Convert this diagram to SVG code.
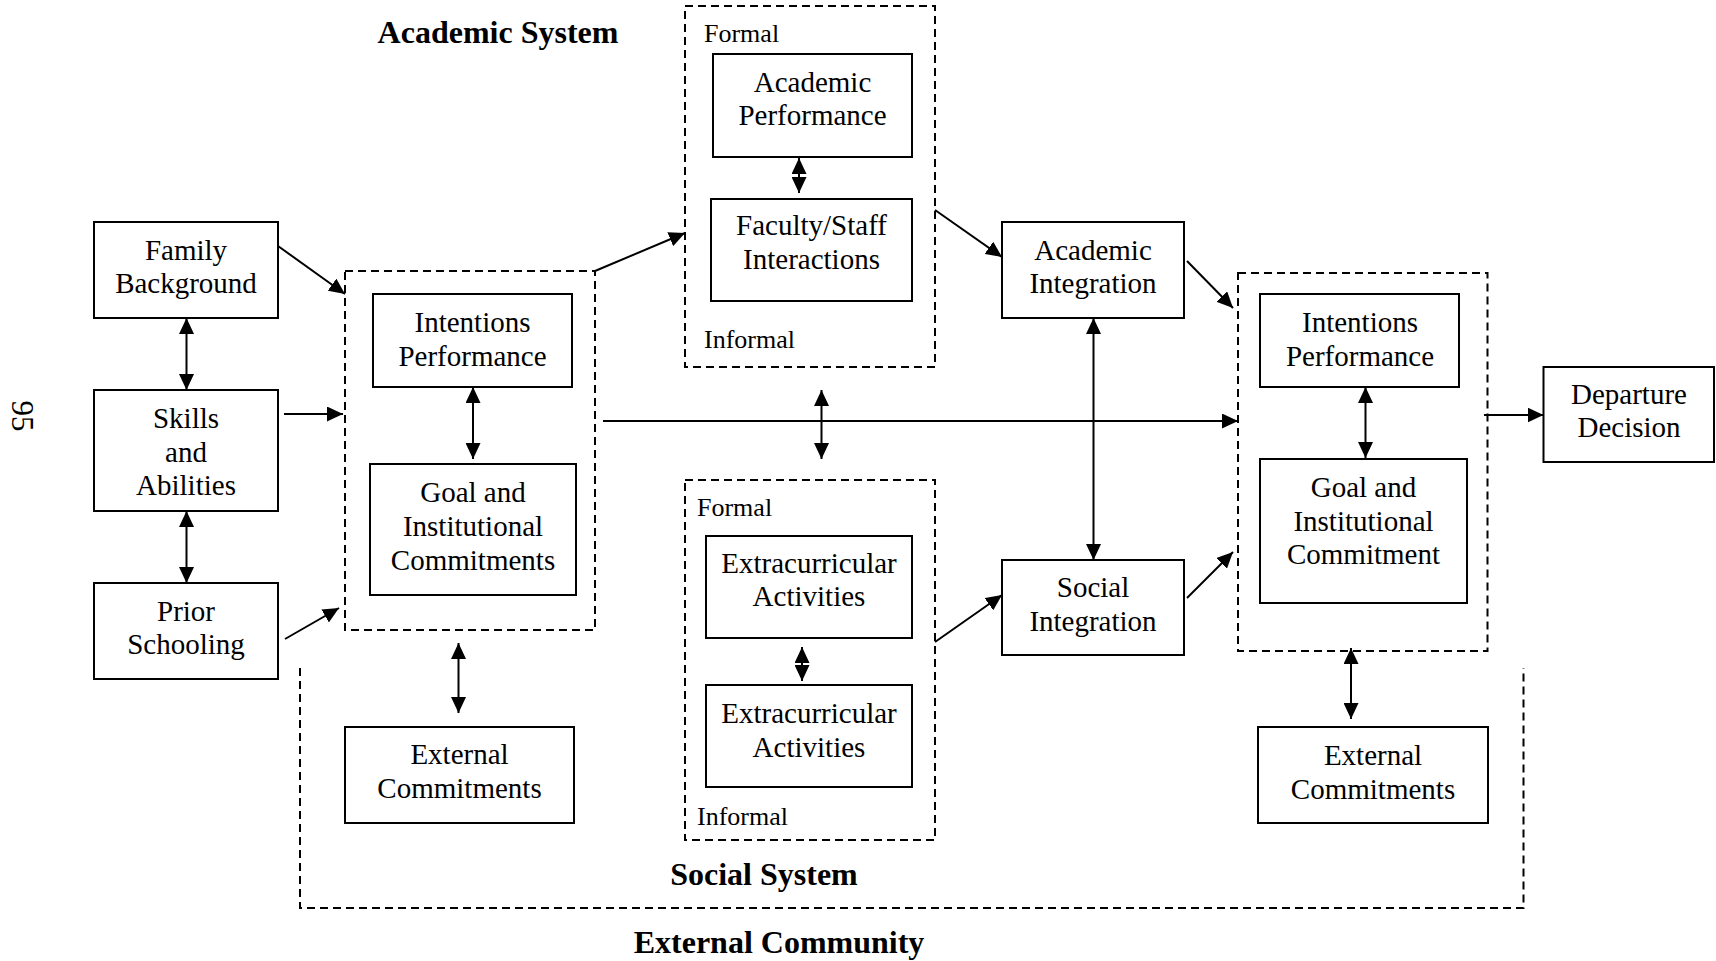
<svg xmlns="http://www.w3.org/2000/svg" width="1716" height="961" viewBox="0 0 1716 961">
<style>
.box{fill:#fff;stroke:#000;stroke-width:2}
.grp{fill:none;stroke:#000;stroke-width:2;stroke-dasharray:8 5}
.t{font-family:"Liberation Serif","Times New Roman",serif;font-size:29px;fill:#000;text-anchor:middle}
.s{font-family:"Liberation Serif","Times New Roman",serif;font-size:26px;fill:#000}
.h{font-family:"Liberation Serif","Times New Roman",serif;font-size:32px;font-weight:bold;fill:#000;text-anchor:middle}
.c{fill:none;stroke:#000;stroke-width:2}
</style>
<defs>
<marker id="ah" markerUnits="userSpaceOnUse" markerWidth="17" markerHeight="15" refX="16" refY="7.5" orient="auto-start-reverse" viewBox="0 0 17 15">
<path d="M0,0 L16,7.5 L0,15 z" fill="#000"/>
</marker>
</defs>
<rect width="1716" height="961" fill="#fff"/>

<text x="12" y="416" class="s" style="font-size:31px;text-anchor:middle" transform="rotate(90 12 416)">95</text>

<text x="498" y="43" class="h">Academic System</text>
<text x="764" y="885" class="h">Social System</text>
<text x="779" y="953" class="h">External Community</text>

<g id="external-community">
<path class="grp" d="M300,668 V908 H1523.5 V668"/>
</g>

<g id="group-left">
<rect class="grp" x="345" y="271" width="250" height="359"/>
</g>
<g id="group-academic">
<rect class="grp" x="685" y="6" width="250" height="361"/>
<text x="704" y="42" class="s">Formal</text>
<text x="704" y="348" class="s">Informal</text>
</g>
<g id="group-social">
<rect class="grp" x="685" y="480" width="250" height="360"/>
<text x="697" y="516" class="s">Formal</text>
<text x="697" y="825" class="s">Informal</text>
</g>
<g id="group-right">
<rect class="grp" x="1238" y="273" width="249.5" height="378"/>
</g>

<g id="family-background">
<rect class="box" x="94" y="222" width="184" height="96"/>
<text x="186" y="260" class="t">Family</text>
<text x="186" y="293" class="t">Background</text>
</g>
<g id="skills-abilities">
<rect class="box" x="94" y="390" width="184" height="121"/>
<text x="186" y="428" class="t">Skills</text>
<text x="186" y="462" class="t">and</text>
<text x="186" y="495" class="t">Abilities</text>
</g>
<g id="prior-schooling">
<rect class="box" x="94" y="583" width="184" height="96"/>
<text x="186" y="621" class="t">Prior</text>
<text x="186" y="654" class="t">Schooling</text>
</g>
<g id="intentions-left">
<rect class="box" x="373" y="294" width="199" height="93"/>
<text x="472.5" y="332" class="t">Intentions</text>
<text x="472.5" y="366" class="t">Performance</text>
</g>
<g id="goal-left">
<rect class="box" x="370" y="464" width="206" height="131"/>
<text x="473" y="502" class="t">Goal and</text>
<text x="473" y="536" class="t">Institutional</text>
<text x="473" y="570" class="t">Commitments</text>
</g>
<g id="external-left">
<rect class="box" x="345" y="727" width="229" height="96"/>
<text x="459.5" y="764" class="t">External</text>
<text x="459.5" y="798" class="t">Commitments</text>
</g>
<g id="academic-performance">
<rect class="box" x="713" y="54" width="199" height="103"/>
<text x="812.5" y="92" class="t">Academic</text>
<text x="812.5" y="125" class="t">Performance</text>
</g>
<g id="faculty-staff">
<rect class="box" x="711" y="199" width="201" height="102"/>
<text x="811.5" y="235" class="t">Faculty/Staff</text>
<text x="811.5" y="269" class="t">Interactions</text>
</g>
<g id="extracurricular-1">
<rect class="box" x="706" y="536" width="206" height="102"/>
<text x="809" y="573" class="t">Extracurricular</text>
<text x="809" y="606" class="t">Activities</text>
</g>
<g id="extracurricular-2">
<rect class="box" x="706" y="685" width="206" height="102"/>
<text x="809" y="723" class="t">Extracurricular</text>
<text x="809" y="757" class="t">Activities</text>
</g>
<g id="academic-integration">
<rect class="box" x="1002" y="222" width="182" height="96"/>
<text x="1093" y="260" class="t">Academic</text>
<text x="1093" y="293" class="t">Integration</text>
</g>
<g id="social-integration">
<rect class="box" x="1002" y="560" width="182" height="95"/>
<text x="1093" y="597" class="t">Social</text>
<text x="1093" y="631" class="t">Integration</text>
</g>
<g id="intentions-right">
<rect class="box" x="1260" y="294" width="199" height="93"/>
<text x="1360" y="332" class="t">Intentions</text>
<text x="1360" y="366" class="t">Performance</text>
</g>
<g id="goal-right">
<rect class="box" x="1260" y="459" width="207" height="144"/>
<text x="1363.5" y="497" class="t">Goal and</text>
<text x="1363.5" y="531" class="t">Institutional</text>
<text x="1363.5" y="564" class="t">Commitment</text>
</g>
<g id="external-right">
<rect class="box" x="1258" y="727" width="230" height="96"/>
<text x="1373" y="765" class="t">External</text>
<text x="1373" y="799" class="t">Commitments</text>
</g>
<g id="departure-decision">
<rect class="box" x="1543.5" y="367" width="170.5" height="95"/>
<text x="1629" y="404" class="t">Departure</text>
<text x="1629" y="437" class="t">Decision</text>
</g>

<g id="connectors">
<line class="c" x1="278" y1="246" x2="345" y2="294" marker-end="url(#ah)"/>
<line class="c" x1="284" y1="414" x2="343" y2="414" marker-end="url(#ah)"/>
<line class="c" x1="285" y1="639" x2="339" y2="608" marker-end="url(#ah)"/>
<line class="c" x1="186.5" y1="318" x2="186.5" y2="390" marker-start="url(#ah)" marker-end="url(#ah)"/>
<line class="c" x1="186.5" y1="511" x2="186.5" y2="583" marker-start="url(#ah)" marker-end="url(#ah)"/>
<line class="c" x1="473" y1="387" x2="473" y2="459" marker-start="url(#ah)" marker-end="url(#ah)"/>
<line class="c" x1="595" y1="271" x2="685" y2="233" marker-end="url(#ah)"/>
<line class="c" x1="603" y1="421" x2="1238" y2="421" marker-end="url(#ah)"/>
<line class="c" x1="821.5" y1="390" x2="821.5" y2="459" marker-start="url(#ah)" marker-end="url(#ah)"/>
<line class="c" x1="799" y1="158" x2="799" y2="193" marker-start="url(#ah)" marker-end="url(#ah)"/>
<line class="c" x1="935" y1="210" x2="1002" y2="257" marker-end="url(#ah)"/>
<line class="c" x1="802" y1="647" x2="802" y2="681" marker-start="url(#ah)" marker-end="url(#ah)"/>
<line class="c" x1="935" y1="642" x2="1002" y2="595" marker-end="url(#ah)"/>
<line class="c" x1="1093.5" y1="318" x2="1093.5" y2="560" marker-start="url(#ah)" marker-end="url(#ah)"/>
<line class="c" x1="1187" y1="261" x2="1233" y2="308" marker-end="url(#ah)"/>
<line class="c" x1="1187" y1="598" x2="1233" y2="552" marker-end="url(#ah)"/>
<line class="c" x1="1365.5" y1="387" x2="1365.5" y2="458" marker-start="url(#ah)" marker-end="url(#ah)"/>
<line class="c" x1="1484" y1="415" x2="1543.5" y2="415" marker-end="url(#ah)"/>
<line class="c" x1="458.5" y1="643" x2="458.5" y2="713" marker-start="url(#ah)" marker-end="url(#ah)"/>
<line class="c" x1="1351" y1="648" x2="1351" y2="719" marker-start="url(#ah)" marker-end="url(#ah)"/>
</g>
</svg>
